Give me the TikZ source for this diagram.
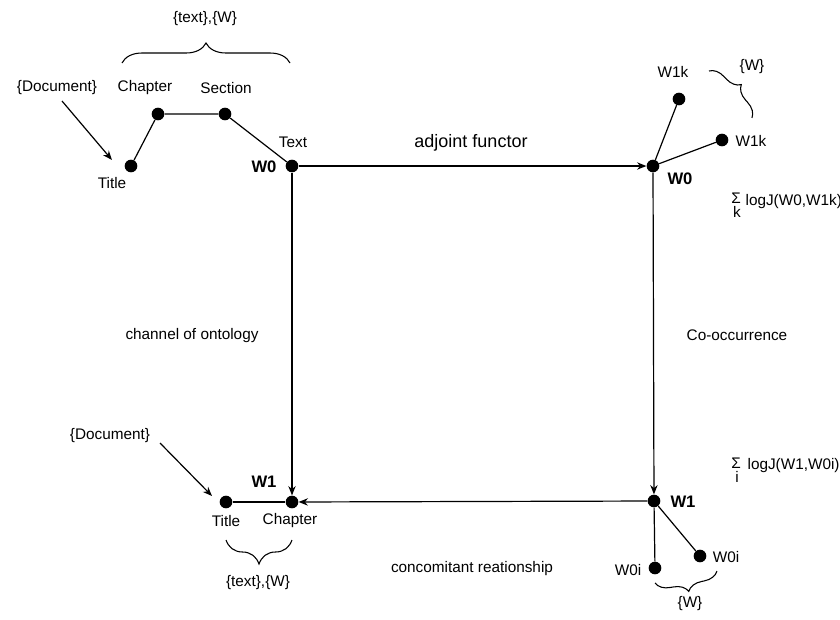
\documentclass[tikz,border=0pt]{standalone}
\usepackage{fontspec}
\setmainfont{Liberation Sans}
\usetikzlibrary{arrows.meta,decorations.pathreplacing}
\begin{document}
\begin{tikzpicture}[x=0.75pt,y=-0.75pt,
  dot/.style={circle,fill=black,inner sep=0pt,minimum size=9.5pt},
  lbl/.style={font=\fontsize{11.5}{13}\selectfont,inner sep=1pt},
  biglbl/.style={font=\fontsize{13.5}{15}\selectfont,inner sep=1pt},
  wlbl/.style={font=\fontsize{12.5}{14}\selectfont\bfseries,inner sep=1pt},
  arr/.style={-{Stealth[length=7pt,width=5.5pt]}},
  link/.style={line width=0.9pt},
  br/.style={decorate,decoration={brace,amplitude=#1},line width=0.8pt},
  br/.default=8pt]
\useasboundingbox (0,0) rectangle (840,619);

% ---- dots ----
\node[dot] (t1) at (131,166) {};
\node[dot] (c1) at (158,114) {};
\node[dot] (s1) at (225,114) {};
\node[dot] (w0l) at (292,166) {};
\node[dot] (w0r) at (653,166) {};
\node[dot] (k1) at (679,99) {};
\node[dot] (k2) at (722,140) {};
\node[dot] (w1r) at (654,501) {};
\node[dot] (i1) at (655,568) {};
\node[dot] (i2) at (700,556) {};
\node[dot] (w1l) at (292,502) {};
\node[dot] (t2) at (226,502) {};

% ---- structure links ----
\draw[link] (t1) -- (c1) -- (s1) -- (w0l);
\draw[link] (w0r) -- (k1);
\draw[link] (w0r) -- (k2);
\draw[link] (w1r) -- (i1);
\draw[link] (w1r) -- (i2);
\draw[link] (t2) -- (w1l);

% ---- square of arrows ----
\draw[link,arr] (w0l) -- (w0r);
\draw[link,arr] (w0r) -- (w1r);
\draw[link,arr] (w1r) -- (w1l);
\draw[link,arr] (w0l) -- (w1l);

% ---- top-left document tree ----
\node[lbl] (txw1) at (205,19) {\{text\},\{W\}};
\coordinate (b1a) at (122,63);
\coordinate (b1b) at (290,63);
\draw[br=15pt] (b1a) -- (b1b);
\node[lbl] (doc1) at (57,88) {\{Document\}};
\node[lbl] (chap1) at (145,88) {Chapter};
\node[lbl] (sec1) at (226,88) {Section};
\node[lbl] (text1) at (293,142) {Text};
\node[wlbl] (w0a) at (264,167) {W0};
\node[lbl] (title1) at (112,183) {Title};
\coordinate (d1s) at (62,101);
\coordinate (d1e) at (112,160);
\draw[link,arr] (d1s) -- (d1e);

% ---- top-right ----
\node[biglbl] (adj) at (471,143) {adjoint functor};
\node[lbl] (k1l) at (673,72) {W1k};
\node[lbl] (k2l) at (751,141) {W1k};
\node[lbl] (wk) at (752,67) {\{W\}};
\coordinate (b2a) at (709,71);
\coordinate (b2b) at (752,118);
\draw[br=11pt] (b2a) -- (b2b);
\node[wlbl] (w0b) at (680,179) {W0};
\node[lbl] (sig1) at (736,198) {Σ};
\node[lbl] (sk) at (737,212) {k};
\node[lbl,anchor=west] (lj1) at (744,202) {logJ(W0,W1k)};

% ---- side labels ----
\node[lbl] (chan) at (192,336) {channel of ontology};
\node[lbl] (cooc) at (737,335) {Co-occurrence};

% ---- bottom-left ----
\node[lbl] (doc2) at (110,436) {\{Document\}};
\coordinate (d2s) at (160,443);
\coordinate (d2e) at (212,496);
\draw[link,arr] (d2s) -- (d2e);
\node[wlbl] (w1a) at (264,482) {W1};
\node[lbl] (title2) at (226,521) {Title};
\node[lbl] (chap2) at (290,521) {Chapter};
\coordinate (b3a) at (292,540);
\coordinate (b3b) at (226,540);
\draw[br=18pt] (b3a) -- (b3b);
\node[lbl] (txw2) at (258,583) {\{text\},\{W\}};

% ---- bottom-right ----
\node[lbl] (conc) at (472,569) {concomitant reationship};
\node[wlbl] (w1b) at (683,502) {W1};
\node[lbl] (sig2) at (736,463) {Σ};
\node[lbl] (si) at (737,477) {i};
\node[lbl,anchor=west] (lj2) at (746,466) {logJ(W1,W0i)};
\node[lbl] (i1l) at (628,570) {W0i};
\node[lbl] (i2l) at (726,557) {W0i};
\coordinate (b4a) at (717,571);
\coordinate (b4b) at (655,583);
\draw[br=11pt] (b4a) -- (b4b);
\node[lbl] (wi) at (690,604) {\{W\}};
\end{tikzpicture}
\end{document}
